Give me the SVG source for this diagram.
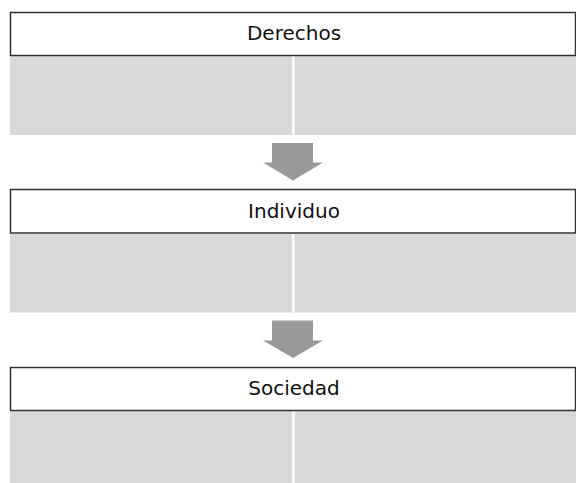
<svg xmlns="http://www.w3.org/2000/svg" width="576" height="483" viewBox="0 0 576 483">
<style>
.hdr{fill:#fff;stroke:#333;stroke-width:1.5}
.body{fill:#d9d9d9}
.div{stroke:#fff;stroke-width:2.5}
.lbl{font-family:"DejaVu Sans",sans-serif;font-size:20px;fill:#111;text-anchor:middle}
.arr{fill:#999}
</style>
<rect width="576" height="483" fill="#fff"/>
<g id="derechos">
<rect class="body" x="10" y="56" width="566" height="79"/>
<line class="div" x1="293.3" y1="56" x2="293.3" y2="135"/>
<rect class="hdr" x="10.5" y="12.5" width="565" height="43"/>
<text class="lbl" x="294" y="39.5">Derechos</text>
</g>
<g id="individuo">
<rect class="body" x="10" y="234" width="566" height="78.5"/>
<line class="div" x1="293.3" y1="234" x2="293.3" y2="312.5"/>
<rect class="hdr" x="10.5" y="189.5" width="565" height="43.5"/>
<text class="lbl" x="294" y="217.5">Individuo</text>
</g>
<g id="sociedad">
<rect class="body" x="10" y="411" width="566" height="72"/>
<line class="div" x1="293.3" y1="411" x2="293.3" y2="483"/>
<rect class="hdr" x="10.5" y="367.5" width="565" height="43"/>
<text class="lbl" x="294" y="395">Sociedad</text>
</g>
<g id="connectors">
<polygon class="arr" points="272,143 313,143 313,162.5 323,162.5 293,180.5 263,162.5 272,162.5"/>
<polygon class="arr" points="272,320.5 313,320.5 313,340.5 323,340.5 293,358 263,340.5 272,340.5"/>
</g>
</svg>
